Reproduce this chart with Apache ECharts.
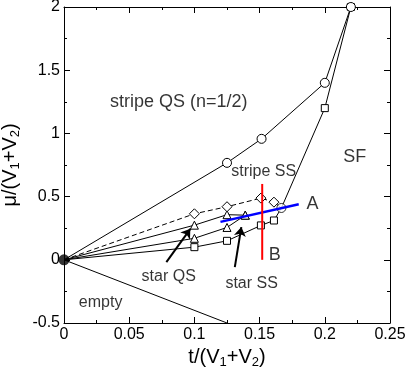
<!DOCTYPE html>
<html>
<head>
<meta charset="utf-8">
<script src="https://cdn.jsdelivr.net/npm/echarts@6/dist/echarts.min.js"></script>
<style>
  html, body { margin: 0; padding: 0; background: #fff; }
  #chart { width: 409px; height: 371px; }
</style>
</head>
<body>
<div id="chart"></div>
<script>
// phase boundaries, [t/(V1+V2), mu/(V1+V2)]
var circleLine = [[0, 0], [0.125, 0.767], [0.1515, 0.957], [0.2, 1.4], [0.22, 2.0]];
var diamondLine = [[0, 0], [0.1, 0.364], [0.125, 0.42], [0.151, 0.488], [0.161, 0.456], [0.1667, 0.41]];
var upperTriangleLine = [[0, 0], [0.1, 0.274], [0.125, 0.357], [0.139, 0.353]];
var lowerTriangleLine = [[0, 0], [0.1, 0.17], [0.125, 0.256], [0.139, 0.353]];
var squareLine = [[0, 0], [0.1, 0.1], [0.125, 0.15], [0.151, 0.272], [0.161, 0.311], [0.1667, 0.41], [0.2, 1.2], [0.22, 2.0]];
var emptyLine = [[0, 0], [0.125, -0.5]];
var junction = [0.1667, 0.41];

// cuts A (blue) and B (red)
var cutA = [[0.12, 0.3], [0.18, 0.44]];
var cutB = [[0.152, 0], [0.152, 0.6]];

// arrows: [tail, head]
var arrowStarQS = [[0.0785, -0.018], [0.0969, 0.245]];
var arrowStarSS = [[0.131, -0.058], [0.136, 0.259]];

// region labels: [text, t, mu, fontSize]
var regionLabels = [
  ['stripe QS (n=1/2)', 0.088, 1.25, 18],
  ['SF', 0.223, 0.81, 18],
  ['stripe SS', 0.1531, 0.70, 16],
  ['A', 0.1905, 0.443, 18],
  ['B', 0.1616, 0.04, 18],
  ['star QS', 0.0803, -0.13, 16],
  ['star SS', 0.1439, -0.185, 16],
  ['empty', 0.0281, -0.335, 16]
];

var hollow = { color: '#fff', borderColor: '#000', borderWidth: 1 };

function withMarks(points) {
  return points.map(function (p, i) {
    if (i === 0) return { value: p, symbol: 'none' };
    if (p[0] === junction[0] && p[1] === junction[1]) return { value: p, symbol: 'none' };
    return p;
  });
}

function boundary(points, symbol, size, dashed) {
  return {
    type: 'line',
    data: withMarks(points),
    symbol: symbol,
    symbolSize: size,
    showAllSymbol: true,
    itemStyle: hollow,
    lineStyle: { color: '#000', width: 1, type: dashed ? [5, 3] : 'solid' },
    animation: false,
    z: 3
  };
}

var chart = echarts.init(document.getElementById('chart'));

var axisCommon = {
  axisLine: { onZero: false, lineStyle: { color: '#000', width: 1 } },
  axisTick: { inside: true, length: 6, lineStyle: { color: '#000' } },
  minorTick: { show: true, splitNumber: 2, length: 3, lineStyle: { color: '#000' } },
  splitLine: { show: false }
};

var option = {
  backgroundColor: '#fff',
  textStyle: { fontFamily: 'Liberation Sans, Arial, sans-serif' },
  grid: { left: 64, right: 19, top: 7, bottom: 48, containLabel: false, outerBoundsMode: 'none' },
  xAxis: [
    Object.assign({
      type: 'value', min: 0, max: 0.25, interval: 0.05, position: 'bottom',
      axisLabel: { fontSize: 16, color: '#000', margin: 4 },
      name: 't/(V{s|1}+V{s|2})',
      nameLocation: 'middle',
      nameGap: 19,
      nameTextStyle: { fontSize: 20, color: '#000', rich: { s: { fontSize: 13, color: '#000', padding: [10, 0, 0, 0] } } }
    }, axisCommon),
    Object.assign({
      type: 'value', min: 0, max: 0.25, interval: 0.05, position: 'top',
      axisLabel: { show: false }
    }, axisCommon)
  ],
  yAxis: [
    Object.assign({
      type: 'value', min: -0.5, max: 2, interval: 0.5, position: 'left',
      axisLabel: { fontSize: 16, color: '#000', margin: 4 },
      name: 'μ/(V{s|1}+V{s|2})',
      nameLocation: 'middle',
      nameRotate: 90,
      nameGap: 38,
      nameTextStyle: { fontSize: 20, color: '#000', rich: { s: { fontSize: 13, color: '#000', padding: [10, 0, 0, 0] } } }
    }, axisCommon),
    Object.assign({
      type: 'value', min: -0.5, max: 2, interval: 0.5, position: 'right',
      axisLabel: { show: false }
    }, axisCommon)
  ],
  series: [
    boundary(emptyLine, 'none', 0, false),
    boundary(squareLine, 'rect', 7, false),
    boundary(lowerTriangleLine, 'triangle', 8, false),
    boundary(upperTriangleLine, 'triangle', 8, false),
    boundary(diamondLine, 'diamond', 10, true),
    boundary(circleLine, 'circle', 9, false),
    {
      type: 'scatter', data: [junction], symbol: 'circle', symbolSize: 9,
      itemStyle: hollow, z: 4, animation: false
    },
    {
      type: 'line', data: cutA, symbol: 'none',
      lineStyle: { color: '#0000ff', width: 2.5 }, z: 5, animation: false
    },
    {
      type: 'line', data: cutB, symbol: 'none',
      lineStyle: { color: '#ff0000', width: 2 }, z: 6, animation: false
    },
    {
      type: 'lines', coordinateSystem: 'cartesian2d',
      data: [{ coords: arrowStarQS }, { coords: arrowStarSS }],
      symbol: ['none', 'arrow'], symbolSize: 9,
      lineStyle: { color: '#000', width: 2, opacity: 1 }, z: 6, animation: false
    },
    {
      type: 'scatter', data: [[0, 0]], symbol: 'circle', symbolSize: 11,
      itemStyle: { color: '#000' }, z: 7, animation: false
    },
    {
      type: 'scatter', symbolSize: 0, animation: false, z: 8,
      data: regionLabels.map(function (r) {
        return {
          value: [r[1], r[2]],
          label: { show: true, position: 'inside', formatter: r[0], fontSize: r[3], color: '#000', textBorderWidth: 0 }
        };
      })
    }
  ]
};

chart.setOption(option);
</script>
</body>
</html>
